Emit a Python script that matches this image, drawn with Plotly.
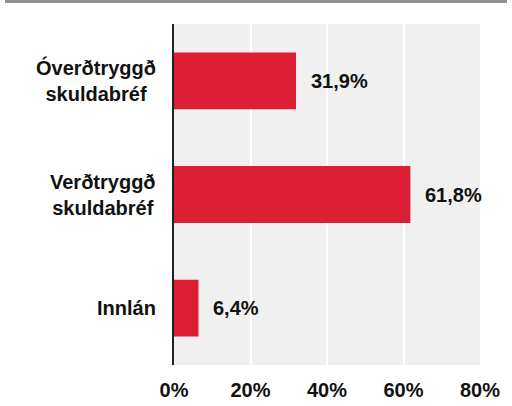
import plotly.graph_objects as go

categories = ['Óverðtryggð<br>skuldabréf', 'Verðtryggð<br>skuldabréf', 'Innlán']
values = [31.9, 61.8, 6.4]
value_labels = ['31,9%', '61,8%', '6,4%']
x_ticks = [0, 20, 40, 60, 80]
x_tick_labels = [f'{v}%' for v in x_ticks]

RED = '#dc1f35'
FONT = 'Liberation Sans, Arial, sans-serif'
BOLD = dict(size=20, color='#111111', family=FONT, weight='bold')

fig = go.Figure(go.Bar(x=values, y=categories, orientation='h',
                       marker=dict(color=RED, line=dict(width=0)),
                       hoverinfo='skip'))

# value labels a bit away from the bar ends
for cat, val, lab in zip(categories, values, value_labels):
    fig.add_annotation(x=val, y=cat, text=lab, showarrow=False,
                       xanchor='left', xshift=13, font=BOLD)

# category labels centred on two lines, left of the axis
for cat in categories:
    fig.add_annotation(x=0, y=cat, xref='paper', text=cat, showarrow=False,
                       xanchor='right', xshift=-16, align='center', font=BOLD)

# grey strip at the very top
fig.add_shape(type='rect', xref='paper', yref='paper',
              x0=-169 / 306, x1=1 + 27 / 306, y0=1 + 21 / 341, y1=1 + 24.5 / 341,
              fillcolor='#958d8d', line=dict(width=0), layer='above')

fig.update_layout(
    width=512, height=406,
    margin=dict(l=174, r=32, t=24, b=41),
    plot_bgcolor='#f0f0f0', paper_bgcolor='white',
    bargap=0.5, showlegend=False,
    font=BOLD,
)
fig.update_xaxes(range=[0, 80], tickvals=x_ticks, ticktext=x_tick_labels,
                 showgrid=True, gridcolor='white', gridwidth=2,
                 zeroline=False, ticks='outside', ticklen=7,
                 tickcolor='rgba(0,0,0,0)', fixedrange=True, automargin=False)
fig.update_yaxes(autorange='reversed', showticklabels=False,
                 showline=True, linecolor='#222222', linewidth=2,
                 showgrid=False, fixedrange=True, automargin=False)

fig.write_html("out.html", config={'displayModeBar': False},
               post_script="document.body.style.margin='0';")
